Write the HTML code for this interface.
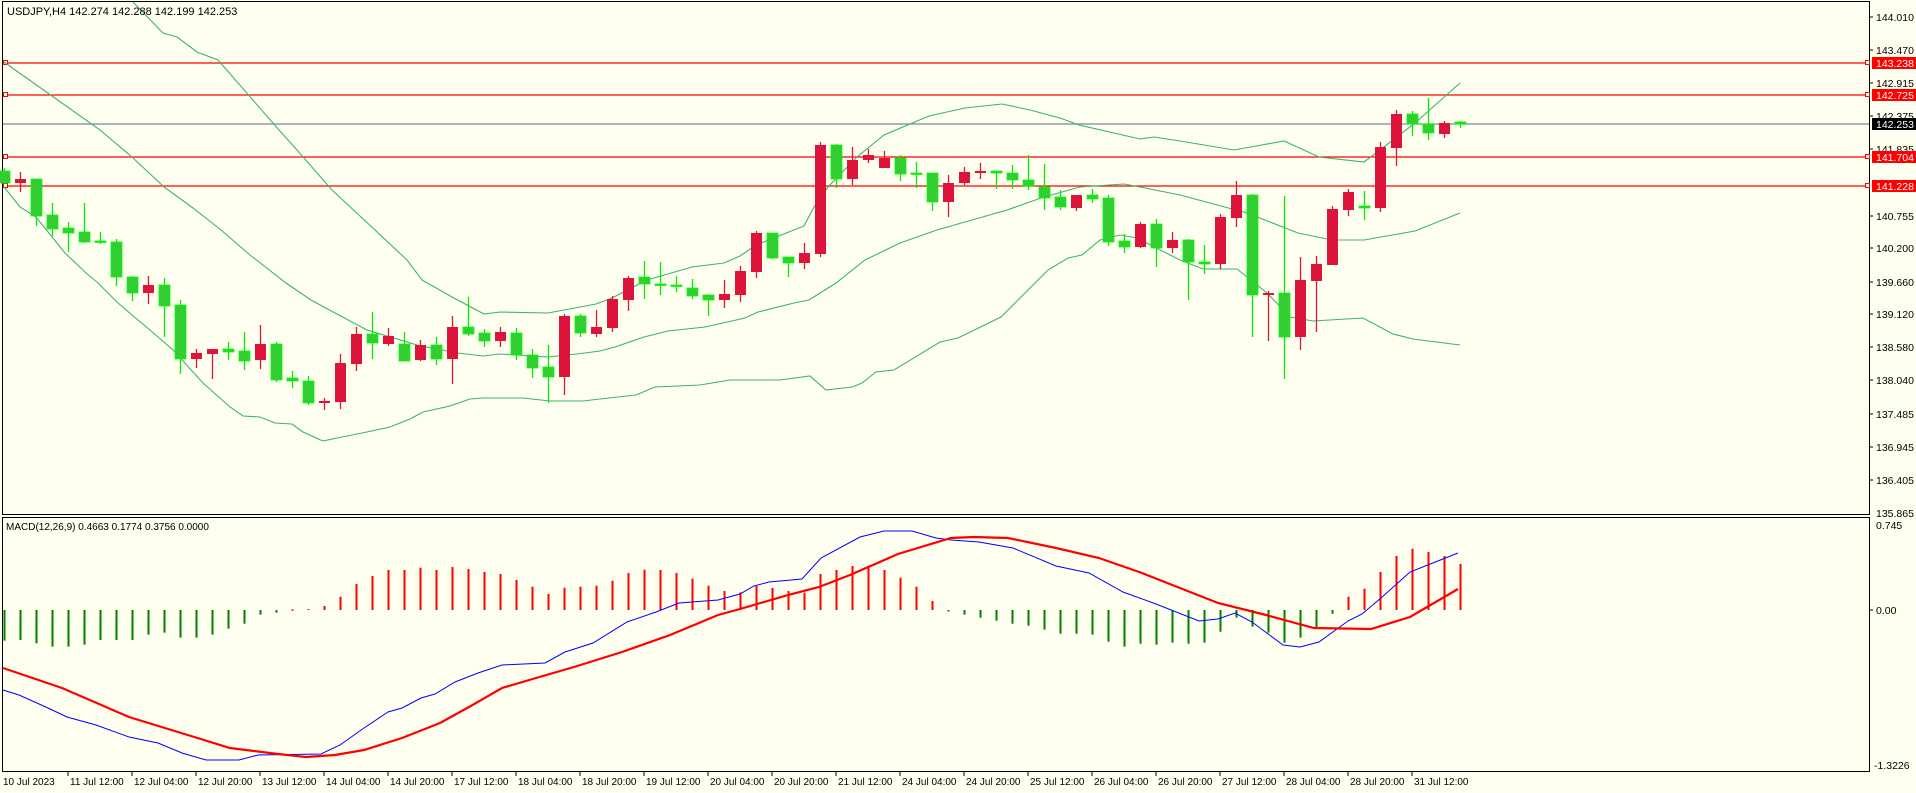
<!DOCTYPE html>
<html><head><meta charset="utf-8"><style>
html,body{margin:0;padding:0;background:#fffff0;}
svg{display:block;font-family:"Liberation Sans",Tahoma,sans-serif;}
</style></head><body>
<svg id="c" width="1916" height="793" viewBox="0 0 1916 793" xmlns="http://www.w3.org/2000/svg">
<rect width="1916" height="793" fill="#fffff0"/>
<rect x="2.5" y="1.5" width="1867" height="513" fill="none" stroke="#000" stroke-width="1"/>
<rect x="2.5" y="517.5" width="1867" height="254" fill="none" stroke="#000" stroke-width="1"/>
<g stroke="#ff0000" stroke-width="1.2">
<line x1="3" y1="63" x2="1869" y2="63"/><line x1="3" y1="95" x2="1869" y2="95"/>
<line x1="3" y1="157" x2="1869" y2="157"/><line x1="3" y1="186" x2="1869" y2="186"/>
</g>
<line x1="3" y1="124" x2="1869" y2="124" stroke="#778899" stroke-width="1.2"/>
<g fill="#fff" stroke="#ff0000" stroke-width="1">
<rect x="3.5" y="60.5" width="4" height="4"/><rect x="3.5" y="92.5" width="4" height="4"/><rect x="3.5" y="154.5" width="4" height="4"/><rect x="3.5" y="183.5" width="4" height="4"/>
<rect x="1865.5" y="60.5" width="4" height="4"/><rect x="1865.5" y="92.5" width="4" height="4"/><rect x="1865.5" y="154.5" width="4" height="4"/><rect x="1865.5" y="183.5" width="4" height="4"/>
</g>
<g fill="none" stroke="#3cb371" stroke-width="1.1">
<polyline points="133,2 163,33 177,37 197,52 218,60 279,130 297,150 332,190 375,230 407,260 422,280 452,297 484,314 500,312 548,313 596,304 612,298 647,280 692,267 724,263 740,256 756,245 804,226 814,207 828,187 857,157 884,135 929,116 965,108 1002,104 1030,110 1060,118 1079,125 1140,139 1154,137 1180,141 1234,150 1284,141 1319,157 1364,162 1380,150 1415,123 1460,83"/>
<polyline points="4,62 100,130 132,157 164,187 193,208 221,230 250,255 286,283 311,300 335,313 367,330 417,345 457,353 483,356 500,354 547,357 577,354 600,351 615,347 644,337 668,331 705,327 745,318 758,312 794,303 809,300 836,283 865,260 900,243 937,230 1007,210 1044,197 1080,187 1124,184 1140,187 1180,195 1247,213 1298,233 1332,240 1364,240 1415,231 1460,213"/>
<polyline points="4,187 20,207 36,217 65,253 86,273 97,282 118,303 132,315 150,330 173,350 203,383 230,407 243,416 260,417 275,423 292,424 303,432 323,441 337,438 367,432 390,427 410,419 423,412 450,406 470,399 483,398 523,398 550,401 583,401 600,399 636,395 655,387 700,385 730,380 780,380 810,376 826,390 852,387 862,383 876,372 894,370 940,342 958,338 1001,317 1048,270 1068,258 1082,255 1100,240 1120,235 1137,238 1180,260 1203,269 1237,269 1267,293 1290,317 1313,321 1363,318 1393,334 1413,339 1460,345"/>
</g>
<g id="candles"></g>
<g id="hist"></g>
<polyline fill="none" stroke="#0000ff" stroke-width="1" points="3,690 19,695 48,708 67,717 96,725 129,737 158,743 182,753 206,760 239,760 258,755 321,754 340,745 364,728 388,712 402,708 421,698 435,694 455,682 478,673 502,665 545,663 565,652 593,643 627,622 656,612 679,603 718,600 740,594 754,586 769,582 802,579 821,558 860,537 884,531 912,531 936,538 951,540 979,542 1013,548 1056,566 1089,573 1123,592 1156,604 1199,621 1218,619 1235,613 1252,622 1283,645 1300,647 1319,642 1348,621 1362,614 1381,598 1410,572 1458,553"/>
<polyline fill="none" stroke="#ff0000" stroke-width="2.2" points="3,668 62,688 129,717 191,736 230,748 278,754 306,757 335,755 364,750 402,738 440,723 469,707 502,688 536,678 574,667 622,652 670,635 718,615 740,609 788,595 819,587 850,575 898,554 951,538 974,537 1008,538 1056,548 1099,558 1142,573 1218,603 1266,615 1314,628 1371,629 1410,617 1458,589"/>
<text x="7" y="15" font-size="11" fill="#000">USDJPY,H4  142.274 142.288 142.199 142.253</text>
<text x="6" y="530" font-size="10" fill="#000">MACD(12,26,9) 0.4663 0.1774 0.3756 0.0000</text>
<g font-size="10.5" fill="#000">
<text x="1876" y="21">144.010</text><text x="1876" y="54">143.470</text><text x="1876" y="87">142.915</text>
<text x="1876" y="120">142.375</text><text x="1876" y="153">141.835</text><text x="1876" y="220">140.755</text>
<text x="1876" y="252">140.200</text><text x="1876" y="286">139.660</text><text x="1876" y="318">139.120</text>
<text x="1876" y="351">138.580</text><text x="1876" y="384">138.040</text><text x="1876" y="418">137.485</text>
<text x="1876" y="451">136.945</text><text x="1876" y="484">136.405</text><text x="1876" y="517">135.865</text>
<text x="1876" y="529">0.745</text><text x="1876" y="614">0.00</text><text x="1874" y="769">-1.3226</text>
</g>
<g stroke="#000" stroke-width="1">
<line x1="1870" y1="17" x2="1873" y2="17"/><line x1="1870" y1="50" x2="1873" y2="50"/><line x1="1870" y1="83" x2="1873" y2="83"/><line x1="1870" y1="116" x2="1873" y2="116"/><line x1="1870" y1="149" x2="1873" y2="149"/><line x1="1870" y1="216" x2="1873" y2="216"/><line x1="1870" y1="248" x2="1873" y2="248"/><line x1="1870" y1="282" x2="1873" y2="282"/><line x1="1870" y1="314" x2="1873" y2="314"/><line x1="1870" y1="347" x2="1873" y2="347"/><line x1="1870" y1="380" x2="1873" y2="380"/><line x1="1870" y1="414" x2="1873" y2="414"/><line x1="1870" y1="447" x2="1873" y2="447"/><line x1="1870" y1="480" x2="1873" y2="480"/><line x1="1870" y1="610" x2="1873" y2="610"/>
</g>
<g font-size="10.5">
<rect x="1872" y="57" width="44" height="12" fill="#ff0000"/><text x="1876" y="67" fill="#fff">143.238</text>
<rect x="1872" y="89" width="44" height="12" fill="#ff0000"/><text x="1876" y="99" fill="#fff">142.725</text>
<rect x="1872" y="118" width="44" height="12" fill="#000"/><text x="1876" y="128" fill="#fff">142.253</text>
<rect x="1872" y="151" width="44" height="12" fill="#ff0000"/><text x="1876" y="161" fill="#fff">141.704</text>
<rect x="1872" y="180" width="44" height="12" fill="#ff0000"/><text x="1876" y="190" fill="#fff">141.228</text>
</g>
<g font-size="10" fill="#000">
<text x="3" y="785">10 Jul 2023</text>
<text x="70" y="785">11 Jul 12:00</text><text x="134" y="785">12 Jul 04:00</text><text x="198" y="785">12 Jul 20:00</text>
<text x="262" y="785">13 Jul 12:00</text><text x="326" y="785">14 Jul 04:00</text><text x="390" y="785">14 Jul 20:00</text>
<text x="454" y="785">17 Jul 12:00</text><text x="518" y="785">18 Jul 04:00</text><text x="582" y="785">18 Jul 20:00</text>
<text x="646" y="785">19 Jul 12:00</text><text x="710" y="785">20 Jul 04:00</text><text x="774" y="785">20 Jul 20:00</text>
<text x="838" y="785">21 Jul 12:00</text><text x="902" y="785">24 Jul 04:00</text><text x="966" y="785">24 Jul 20:00</text>
<text x="1030" y="785">25 Jul 12:00</text><text x="1094" y="785">26 Jul 04:00</text><text x="1158" y="785">26 Jul 20:00</text>
<text x="1222" y="785">27 Jul 12:00</text><text x="1286" y="785">28 Jul 04:00</text><text x="1350" y="785">28 Jul 20:00</text>
<text x="1414" y="785">31 Jul 12:00</text>
</g>
<g id="xt" stroke="#000"></g>
</svg>
<script>
var C=[["G",171,183,168,184],["R",179,183,172,192],["G",179,216,179,226],["G",215,229,203,236],["G",228,233,222,252],["G",232,242,203,243],["G",241,241,232,244],["G",242,277,239,286],["G",277,293,276,301],["R",285,293,276,304],["G",285,306,278,337],["G",305,359,300,374],["R",353,359,349,368],["R",349,354,349,379],["G",349,352,342,360],["G",351,361,332,370],["R",344,360,325,369],["G",344,380,342,382],["G",378,381,371,388],["G",381,403,376,405],["R",401,403,398,410],["R",363,402,354,409],["R",334,364,327,371],["G",334,343,312,359],["R",336,344,328,346],["G",344,361,332,361],["R",345,360,340,361],["G",345,359,337,365],["R",327,359,316,384],["G",327,334,297,336],["G",333,341,329,347],["R",332,341,327,347],["G",333,355,328,360],["G",355,368,349,378],["G",367,377,345,403],["R",316,377,314,395],["G",316,333,314,337],["R",327,334,310,337],["R",299,328,296,332],["R",278,300,276,311],["G",277,284,261,299],["G",284,285,262,295],["G",285,285,276,292],["G",288,296,279,299],["G",295,300,294,316],["R",294,300,280,308],["R",271,295,266,302],["R",233,272,231,278],["G",233,258,233,259],["G",257,263,257,277],["R",253,263,243,269],["R",145,254,142,257],["G",145,179,144,188],["R",160,179,147,185],["R",155,160,149,163],["R",158,168,151,168],["G",158,174,155,181],["G",173,173,162,188],["G",173,202,173,211],["R",183,202,175,217],["R",172,183,167,185],["R",171,173,163,179],["G",171,173,171,189],["G",173,180,165,189],["G",180,186,155,190],["G",187,198,164,210],["G",197,207,190,210],["R",195,208,195,211],["G",195,199,189,203],["G",198,242,195,246],["G",241,247,234,253],["R",224,247,222,248],["G",224,248,219,267],["R",240,248,232,253],["G",240,262,239,300],["G",262,264,245,274],["R",217,264,214,269],["R",195,218,181,227],["G",195,295,194,337],["R",293,295,291,341],["G",293,337,196,379],["R",280,337,257,350],["R",264,281,256,332],["R",209,265,206,265],["R",192,210,189,216],["G",206,208,191,220],["R",147,208,142,212],["R",114,148,110,166],["G",114,124,111,136],["G",124,133,98,140],["R",123,134,121,138],["G",122,124,121,128]];
var H=[377,375,385,395,395,389,375,375,375,359,353,368,368,359,341,326,299,293,283,282,273,245,207,183,165,165,158,165,156,162,171,177,195,215,237,218,215,212,197,174,164,165,174,191,212,228,232,213,219,228,233,177,165,153,153,165,188,215,258,287,299,308,317,326,332,344,356,356,359,380,395,386,389,383,386,383,350,308,335,353,383,368,341,296,245,221,171,123,101,111,123,147];
var s="";
C.forEach(function(c,i){var x=4+16*i,g=c[0]=="G";var wc=g?"#00ee00":"#dc143c",bc=g?"#32cd32":"#dc143c";
s+='<line x1="'+(x+.5)+'" y1="'+c[3]+'" x2="'+(x+.5)+'" y2="'+c[4]+'" stroke="'+wc+'" stroke-width="1.3"/>';
var h=Math.max(c[2]-c[1],1.5);s+='<rect x="'+(x-5)+'" y="'+c[1]+'" width="11" height="'+h+'" fill="'+bc+'"'+(g?' stroke="#00ff00" stroke-width="0.8"':'')+'/>';});
document.getElementById("candles").innerHTML=s;
s="";H.forEach(function(v,i){var x=4+16*i,y=515+v/3;var col=y>610?"#008000":"#ff0000";var a=Math.min(y,610),b=Math.max(y,610);if(b-a<1)b=a+1.5;
s+='<rect x="'+(x-0.5)+'" y="'+a+'" width="2" height="'+(b-a)+'" fill="'+col+'"/>';});
document.getElementById("hist").innerHTML=s;
s="";for(var i=4;i<92;i+=4){var x=4+16*i;s+='<line x1="'+x+'" y1="772" x2="'+x+'" y2="776"/>';}
document.getElementById("xt").innerHTML=s;
</script>
</body></html>
